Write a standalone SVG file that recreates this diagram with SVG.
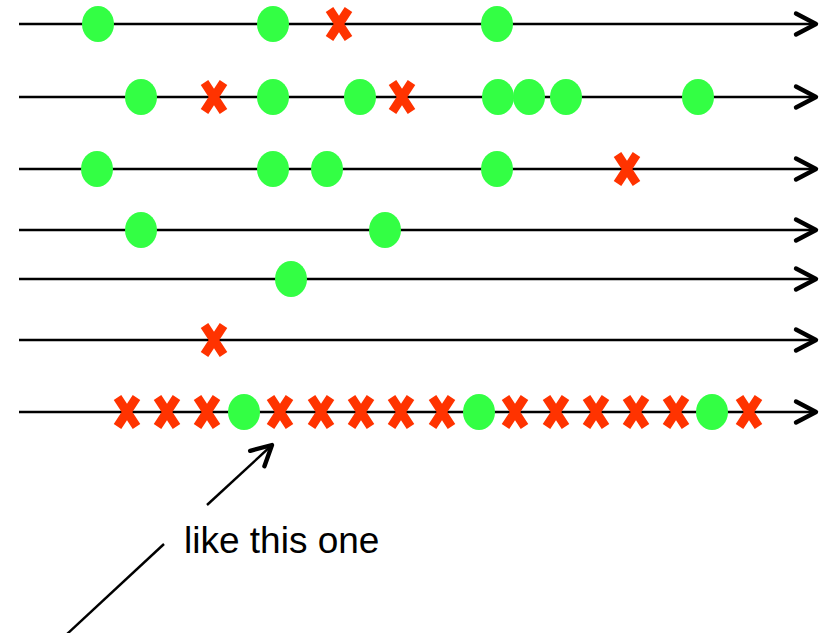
<svg xmlns="http://www.w3.org/2000/svg" xmlns:xlink="http://www.w3.org/1999/xlink" width="825" height="633" viewBox="0 0 825 633">
<style>
.axis{stroke:#000;stroke-width:2.4;fill:none}
.ptr{stroke:#000;stroke-width:2.4;fill:none}
.dot{fill:#33FF44}
.xm{stroke:#FF3300;stroke-width:9;fill:none}
.lbl{font-family:"Liberation Sans",Arial,sans-serif;font-size:37px;fill:#000}
</style>
<defs>
<marker id="chev" markerUnits="userSpaceOnUse" viewBox="-26 -16 30 32" markerWidth="30" markerHeight="32" refX="0" refY="0" orient="auto" overflow="visible">
<path d="M-20,-10.5 L0,0 L-20,10.5" fill="none" stroke="#000" stroke-width="4.4" stroke-linecap="round" stroke-linejoin="round"/>
</marker>
<ellipse id="g" class="dot" cx="0" cy="0" rx="16" ry="18"/>
<path id="x" class="xm" d="M-9.5,-14.5 L9.5,14.5 M9.5,-14.5 L-9.5,14.5"/>
</defs>
<g id="connectors">
<line class="axis" x1="19" y1="24" x2="816" y2="24" marker-end="url(#chev)"/>
<line class="axis" x1="19" y1="97" x2="816" y2="97" marker-end="url(#chev)"/>
<line class="axis" x1="19" y1="169" x2="816" y2="169" marker-end="url(#chev)"/>
<line class="axis" x1="19" y1="230" x2="816" y2="230" marker-end="url(#chev)"/>
<line class="axis" x1="19" y1="279" x2="816" y2="279" marker-end="url(#chev)"/>
<line class="axis" x1="19" y1="340" x2="816" y2="340" marker-end="url(#chev)"/>
<line class="axis" x1="19" y1="412" x2="816" y2="412" marker-end="url(#chev)"/>
<line class="ptr" x1="66" y1="635" x2="164" y2="544"/>
<line class="ptr" x1="207" y1="505" x2="272" y2="445" marker-end="url(#chev)"/>
</g>
<g id="row1">
<use id="r1a" href="#g" xlink:href="#g" x="98" y="24"/>
<use id="r1b" href="#g" xlink:href="#g" x="273" y="24"/>
<use id="r1c" href="#x" xlink:href="#x" x="339" y="24"/>
<use id="r1d" href="#g" xlink:href="#g" x="497" y="24"/>
</g>
<g id="row2">
<use id="r2a" href="#g" xlink:href="#g" x="141" y="97"/>
<use id="r2b" href="#x" xlink:href="#x" x="214" y="97"/>
<use id="r2c" href="#g" xlink:href="#g" x="273" y="97"/>
<use id="r2d" href="#g" xlink:href="#g" x="360" y="97"/>
<use id="r2e" href="#x" xlink:href="#x" x="402" y="97"/>
<use id="r2f" href="#g" xlink:href="#g" x="498" y="97"/>
<use id="r2g" href="#g" xlink:href="#g" x="529" y="97"/>
<use id="r2h" href="#g" xlink:href="#g" x="566" y="97"/>
<use id="r2i" href="#g" xlink:href="#g" x="698" y="97"/>
</g>
<g id="row3">
<use id="r3a" href="#g" xlink:href="#g" x="97" y="169"/>
<use id="r3b" href="#g" xlink:href="#g" x="273" y="169"/>
<use id="r3c" href="#g" xlink:href="#g" x="327" y="169"/>
<use id="r3d" href="#g" xlink:href="#g" x="497" y="169"/>
<use id="r3e" href="#x" xlink:href="#x" x="627" y="169"/>
</g>
<g id="row4">
<use id="r4a" href="#g" xlink:href="#g" x="141" y="230"/>
<use id="r4b" href="#g" xlink:href="#g" x="385" y="230"/>
</g>
<g id="row5">
<use id="r5a" href="#g" xlink:href="#g" x="291" y="279"/>
</g>
<g id="row6">
<use id="r6a" href="#x" xlink:href="#x" x="214" y="340"/>
</g>
<g id="row7">
<use id="r7a" href="#x" xlink:href="#x" x="127" y="412"/>
<use id="r7b" href="#x" xlink:href="#x" x="167" y="412"/>
<use id="r7c" href="#x" xlink:href="#x" x="207" y="412"/>
<use id="r7d" href="#g" xlink:href="#g" x="244" y="412"/>
<use id="r7e" href="#x" xlink:href="#x" x="280" y="412"/>
<use id="r7f" href="#x" xlink:href="#x" x="321" y="412"/>
<use id="r7g" href="#x" xlink:href="#x" x="361" y="412"/>
<use id="r7h" href="#x" xlink:href="#x" x="401" y="412"/>
<use id="r7i" href="#x" xlink:href="#x" x="442" y="412"/>
<use id="r7j" href="#g" xlink:href="#g" x="479" y="412"/>
<use id="r7k" href="#x" xlink:href="#x" x="515" y="412"/>
<use id="r7l" href="#x" xlink:href="#x" x="556" y="412"/>
<use id="r7m" href="#x" xlink:href="#x" x="596" y="412"/>
<use id="r7n" href="#x" xlink:href="#x" x="636" y="412"/>
<use id="r7o" href="#x" xlink:href="#x" x="676" y="412"/>
<use id="r7p" href="#g" xlink:href="#g" x="712" y="412"/>
<use id="r7q" href="#x" xlink:href="#x" x="749" y="412"/>
</g>
<g id="label">
<text class="lbl" x="184" y="553">like this one</text>
</g>
</svg>
